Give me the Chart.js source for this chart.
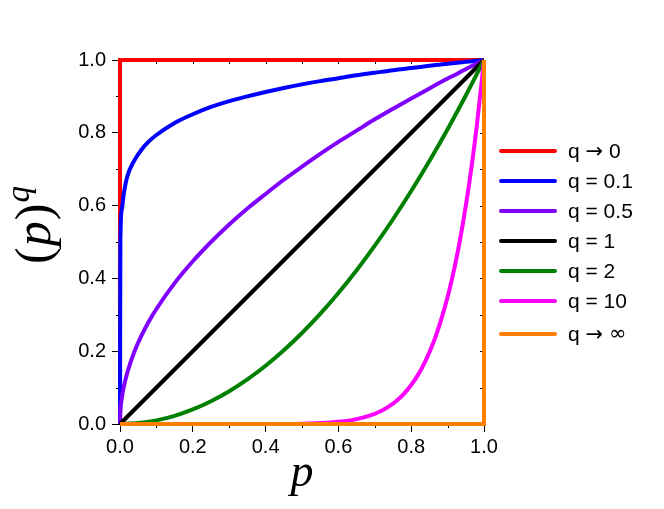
<!DOCTYPE html>
<html>
<head>
<meta charset="utf-8">
<script src="https://cdn.jsdelivr.net/npm/chart.js@4.4.1/dist/chart.umd.min.js"></script>
<style>
  html, body { margin: 0; padding: 0; background: #fff; }
  canvas { display: block; }
</style>
</head>
<body>
<canvas id="powerChart" width="664" height="509"></canvas>
<script>
// Series
var seriesLabels = ['q \u2192 0', 'q = 0.1', 'q = 0.5', 'q = 1', 'q = 2', 'q = 10', 'q \u2192 \u221e'];
var seriesColors = ['#ff0000', '#0000ff', '#8000ff', '#000000', '#008000', '#ff00ff', '#ff8000'];

var pLimitZero = [0, 0, 1];
var yLimitZero = [0, 1, 1];

var pLow = [0, 0.001, 0.005, 0.01, 0.02, 0.04, 0.06, 0.08, 0.1, 0.15, 0.2, 0.25, 0.3, 0.35, 0.4,
  0.45, 0.5, 0.55, 0.6, 0.65, 0.7, 0.75, 0.8, 0.85, 0.9, 0.92, 0.94, 0.96, 0.98, 1];
var yQ01 = [0, 0.50, 0.59, 0.63, 0.68, 0.725, 0.755, 0.777, 0.794, 0.827, 0.851, 0.871, 0.887, 0.900, 0.912,
  0.923, 0.933, 0.942, 0.950, 0.958, 0.965, 0.972, 0.978, 0.984, 0.990, 0.992, 0.994, 0.996, 0.998, 1];
var yQ05 = [0, 0.032, 0.071, 0.100, 0.141, 0.200, 0.245, 0.283, 0.316, 0.387, 0.447, 0.500, 0.548, 0.592, 0.632,
  0.671, 0.707, 0.742, 0.775, 0.806, 0.837, 0.866, 0.894, 0.922, 0.949, 0.959, 0.970, 0.980, 0.990, 1];

var pLinear = [0, 1];
var yQ1 = [0, 1];

var pMid = [0, 0.05, 0.1, 0.15, 0.2, 0.25, 0.3, 0.35, 0.4, 0.45, 0.5, 0.55, 0.6, 0.65, 0.7, 0.75, 0.8, 0.85, 0.9, 0.95, 1];
var yQ2 = [0, 0.0025, 0.01, 0.0225, 0.04, 0.0625, 0.09, 0.1225, 0.16, 0.2025, 0.25, 0.3025, 0.36, 0.4225, 0.49,
  0.5625, 0.64, 0.7225, 0.81, 0.9025, 1];

var pHigh = [0, 0.4, 0.5, 0.55, 0.6, 0.65, 0.7, 0.72, 0.74, 0.76, 0.78, 0.8, 0.82, 0.84, 0.86, 0.88, 0.9, 0.92, 0.94, 0.96, 0.98, 1];
var yQ10 = [0, 0.0001, 0.001, 0.0025, 0.006, 0.0135, 0.028, 0.037, 0.049, 0.064, 0.083, 0.107, 0.137, 0.175, 0.221,
  0.279, 0.349, 0.434, 0.539, 0.665, 0.817, 1];

var pLimitInf = [0, 1, 1];
var yLimitInf = [0, 0, 1];

var xTicks = [0, 0.2, 0.4, 0.6, 0.8, 1.0];
var yTicks = [0, 0.2, 0.4, 0.6, 0.8, 1.0];

function pts(xs, ys) {
  return xs.map(function (x, i) { return { x: x, y: ys[i] }; });
}

var seriesData = [
  pts(pLimitZero, yLimitZero),
  pts(pLow, yQ01),
  pts(pLow, yQ05),
  pts(pLinear, yQ1),
  pts(pMid, yQ2),
  pts(pHigh, yQ10),
  pts(pLimitInf, yLimitInf)
];

var SANS = '"Liberation Sans", Arial, sans-serif';
var SYMB = '"DejaVu Sans", sans-serif';
var SERIF = '"Liberation Serif", "Times New Roman", serif';

var datasets = seriesData.map(function (d, i) {
  var sharp = (i === 0 || i === 3 || i === 6);
  return {
    label: seriesLabels[i],
    data: d,
    borderColor: seriesColors[i],
    backgroundColor: seriesColors[i],
    borderWidth: 4,
    pointRadius: 0,
    fill: false,
    tension: 0,
    cubicInterpolationMode: sharp ? 'default' : 'monotone',
    clip: false,
    order: seriesData.length - i
  };
});

// draws a label, arrows and infinity taken from DejaVu (they are larger there)
function drawLabel(ctx, text, x, y, size) {
  var cx = x;
  for (var k = 0; k < text.length; k++) {
    var ch = text[k];
    var sym = (ch === '\u2192' || ch === '\u221e');
    ctx.font = size + 'px ' + (sym ? SYMB : SANS);
    ctx.fillText(ch, cx, y + (ch === '\u2192' ? 1 : 0));
    cx += ctx.measureText(ch).width;
  }
}

// frame, minor ticks, titles and legend
var decor = {
  id: 'decor',
  beforeDatasetsDraw: function (chart) {
    var ctx = chart.ctx, a = chart.chartArea;
    var xs = chart.scales.x, ys = chart.scales.y;
    ctx.save();
    ctx.strokeStyle = '#000';
    ctx.lineWidth = 1;
    ctx.beginPath();
    ctx.moveTo(a.left, a.top + 0.5); ctx.lineTo(a.right, a.top + 0.5);
    ctx.moveTo(a.right - 0.5, a.top); ctx.lineTo(a.right - 0.5, a.bottom);
    for (var k = 0; k <= 10; k++) {
      var v = k / 10;
      var px = Math.round(xs.getPixelForValue(v)) + 0.5;
      var py = Math.round(ys.getPixelForValue(v)) + 0.5;
      // top + right: inward ticks
      ctx.moveTo(px, a.top); ctx.lineTo(px, a.top + 4);
      ctx.moveTo(a.right, py); ctx.lineTo(a.right - 4, py);
      if (k % 2 === 1) {
        // bottom + left: outward minor ticks
        ctx.moveTo(px, a.bottom); ctx.lineTo(px, a.bottom + 4);
        ctx.moveTo(a.left, py); ctx.lineTo(a.left - 4, py);
      }
    }
    ctx.stroke();
    ctx.restore();
  },
  afterDraw: function (chart) {
    var ctx = chart.ctx, a = chart.chartArea;
    ctx.save();
    ctx.fillStyle = '#000';

    // x title
    ctx.font = 'italic 46px ' + SERIF;
    ctx.textAlign = 'center';
    ctx.textBaseline = 'alphabetic';
    ctx.fillText('p', (a.left + a.right) / 2, 486);

    // y title: (p)^q
    ctx.save();
    ctx.translate(50, 225);
    ctx.rotate(-Math.PI / 2);
    ctx.textAlign = 'left';
    ctx.font = '50px ' + SERIF;
    var w1 = ctx.measureText('(').width;
    ctx.font = 'italic 50px ' + SERIF;
    var w2 = ctx.measureText('p').width;
    ctx.font = '50px ' + SERIF;
    var w3 = ctx.measureText(')').width;
    ctx.font = 'italic 33px ' + SERIF;
    var w4 = ctx.measureText('q').width;
    var x0 = -(w1 + w2 + w3 + w4 + 3) / 2;
    ctx.font = '50px ' + SERIF;
    ctx.fillText('(', x0, 0);
    ctx.font = 'italic 50px ' + SERIF;
    ctx.fillText('p', x0 + w1 + 1, 0);
    ctx.font = '50px ' + SERIF;
    ctx.fillText(')', x0 + w1 + w2 + 2, 0);
    ctx.font = 'italic 33px ' + SERIF;
    ctx.fillText('q', x0 + w1 + w2 + w3 + 3, -21);
    ctx.restore();

    // legend
    ctx.textAlign = 'left';
    ctx.textBaseline = 'middle';
    chart.data.datasets.forEach(function (ds, i) {
      var y = 151 + i * 30 + (i === 6 ? 3 : 0);
      ctx.strokeStyle = ds.borderColor;
      ctx.lineWidth = 4;
      ctx.lineCap = 'round';
      ctx.beginPath();
      ctx.moveTo(501, y);
      ctx.lineTo(555, y);
      ctx.stroke();
      ctx.fillStyle = '#000';
      drawLabel(ctx, ds.label, 568, y + 1, 21);
    });
    ctx.restore();
  }
};

new Chart(document.getElementById('powerChart'), {
  type: 'line',
  data: { datasets: datasets },
  options: {
    responsive: false,
    animation: false,
    events: [],
    layout: { padding: { left: 0, right: 180, top: 60, bottom: 0 } },
    plugins: { legend: { display: false }, tooltip: { enabled: false } },
    scales: {
      x: {
        type: 'linear',
        min: 0,
        max: 1,
        afterFit: function (s) { s.height = 85; },
        afterBuildTicks: function (s) { s.ticks = xTicks.map(function (v) { return { value: v }; }); },
        ticks: {
          color: '#000',
          font: { family: SANS, size: 20 },
          padding: 3,
          maxRotation: 0,
          callback: function (v) { return Number(v).toFixed(1); }
        },
        grid: { drawOnChartArea: false, drawTicks: true, tickLength: 8, color: '#000', lineWidth: 1 },
        border: { display: true, color: '#000', width: 1 }
      },
      y: {
        type: 'linear',
        min: 0,
        max: 1,
        afterFit: function (s) { s.width = 120; },
        afterBuildTicks: function (s) { s.ticks = yTicks.map(function (v) { return { value: v }; }); },
        ticks: {
          color: '#000',
          font: { family: SANS, size: 20 },
          padding: 6,
          callback: function (v) { return Number(v).toFixed(1); }
        },
        grid: { drawOnChartArea: false, drawTicks: true, tickLength: 8, color: '#000', lineWidth: 1 },
        border: { display: true, color: '#000', width: 1 }
      }
    }
  },
  plugins: [decor]
});
</script>
</body>
</html>
